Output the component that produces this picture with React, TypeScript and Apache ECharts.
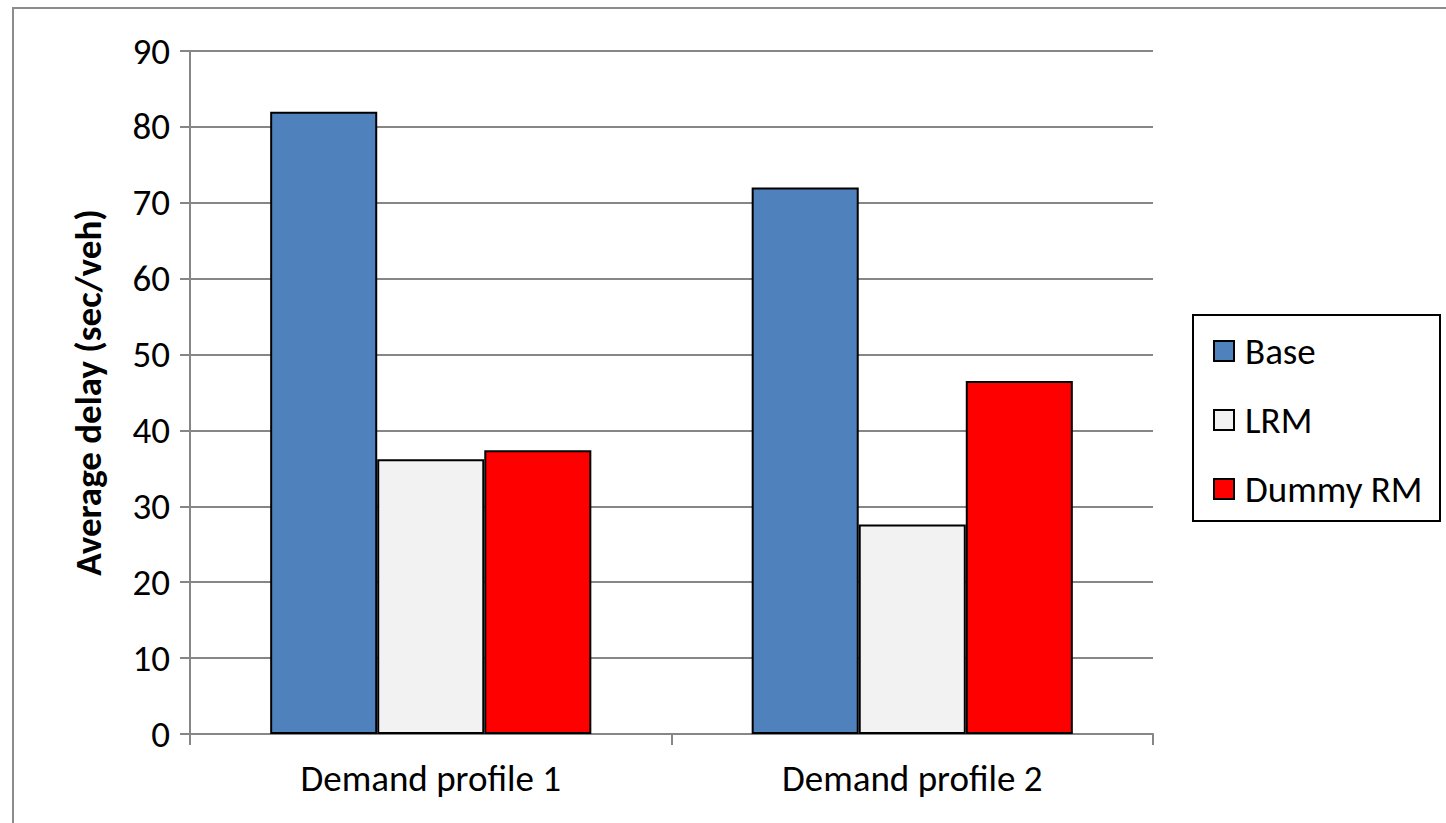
import React, { useEffect, useRef } from "react";
import * as echarts from "echarts";

const categories = ["Demand profile 1", "Demand profile 2"];
const baseValues = [82, 72];
const lrmValues = [36.2, 27.6];
const dummyValues = [37.4, 46.5];
const seriesNames = ["Base", "LRM", "Dummy RM"];
const seriesColors = ["#4F81BD", "#F2F2F2", "#FF0000"];
const yAxisTitle = "Average delay (sec/veh)";

const FONT = "Calibri, Carlito, Lato, 'Open Sans', sans-serif";
const FS = 37;

export default function App() {
  const ref = useRef<HTMLDivElement>(null);
  useEffect(() => {
    if (!ref.current) return;
    const chart = echarts.init(ref.current, undefined, { renderer: "svg" });
    const values = [baseValues, lrmValues, dummyValues];
    chart.setOption({
      animation: false,
      backgroundColor: "#ffffff",
      textStyle: { fontFamily: FONT },
      graphic: [
        {
          type: "rect",
          shape: { x: 13, y: 8, width: 1600, height: 1000 },
          style: { fill: "none", stroke: "#8C8C8C", lineWidth: 2 },
          silent: true,
        },
        {
          type: "rect",
          shape: { x: 1193, y: 315, width: 247, height: 206 },
          style: { fill: "none", stroke: "#000000", lineWidth: 2 },
          silent: true,
        },
      ],
      legend: {
        orient: "vertical",
        left: 1213,
        top: 331,
        padding: 0,
        itemWidth: 20,
        itemHeight: 20,
        itemGap: 29,
        icon: "rect",
        textStyle: {
          fontSize: FS,
          lineHeight: 40,
          color: "#000",
          fontFamily: FONT,
          padding: [0, 0, 0, 6],
        },
        data: seriesNames.map((n, i) => ({
          name: n,
          itemStyle: { color: seriesColors[i], borderColor: "#000", borderWidth: 2 },
        })),
      },
      grid: { left: 190, top: 51, width: 963, height: 683 },
      xAxis: {
        type: "category",
        data: categories,
        axisLine: { lineStyle: { color: "#868686", width: 2 } },
        axisTick: { show: true, length: 11, lineStyle: { color: "#868686", width: 2 } },
        axisLabel: { fontSize: FS, color: "#000", margin: 26, fontFamily: FONT },
      },
      yAxis: {
        type: "value",
        min: 0,
        max: 90,
        interval: 10,
        name: yAxisTitle,
        nameLocation: "middle",
        nameGap: 83,
        nameTextStyle: { fontSize: FS, fontWeight: "bold", color: "#000", fontFamily: FONT },
        axisLine: { show: true, lineStyle: { color: "#868686", width: 2 } },
        axisTick: { show: true, length: 10, lineStyle: { color: "#868686", width: 2 } },
        axisLabel: { fontSize: FS, color: "#000", margin: 20, fontFamily: FONT },
        splitLine: { show: true, lineStyle: { color: "#868686", width: 2 } },
      },
      series: seriesNames.map((n, i) => ({
        name: n,
        type: "bar",
        data: values[i],
        barGap: "0%",
        barCategoryGap: "33.3%",
        itemStyle: { color: seriesColors[i], borderColor: "#000", borderWidth: 2 },
      })),
    });
    return () => chart.dispose();
  }, []);
  return (
    <div
      ref={ref}
      style={{ position: "fixed", left: 0, top: 0, width: 1446, height: 823 }}
    />
  );
}
